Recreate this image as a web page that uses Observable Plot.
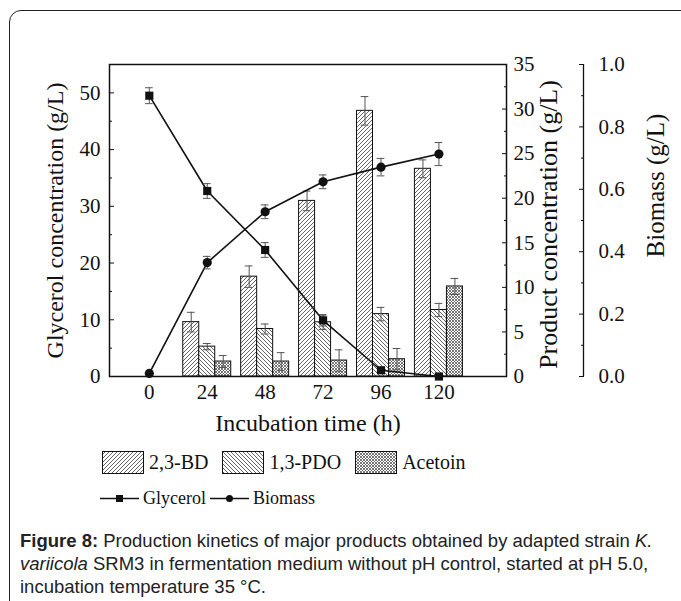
<!DOCTYPE html>
<html><head><meta charset="utf-8">
<script src="https://cdn.jsdelivr.net/npm/d3@7"></script>
<script src="https://cdn.jsdelivr.net/npm/@observablehq/plot@0.6"></script>
<style>
html,body{margin:0;padding:0;background:#fff;overflow:hidden;width:681px;height:601px}
#wrap{position:relative;width:681px;height:601px;overflow:hidden}
#border{position:absolute;left:9px;top:10px;width:700px;height:620px;border:1.5px solid #222;border-radius:12px;box-sizing:border-box}
#chart{position:absolute;left:0;top:0}
.leg{position:absolute;font-family:"Liberation Serif",serif;color:#111;display:flex;align-items:center;white-space:nowrap}
.leg svg{display:block}
#caption{position:absolute;left:20px;top:529px;font-family:"Liberation Sans",Arial,sans-serif;font-size:18.5px;line-height:23px;color:#222;white-space:nowrap}
</style></head>
<body>
<svg width="0" height="0" style="position:absolute">
  <defs>
    <pattern id="pBD" patternUnits="userSpaceOnUse" width="4" height="4">
      <rect width="4" height="4" fill="#fff"/>
      <path d="M-1,1 l2,-2 M0,4 l4,-4 M3,5 l2,-2" stroke="#555" stroke-width="0.9"/>
    </pattern>
    <pattern id="pPDO" patternUnits="userSpaceOnUse" width="4" height="4">
      <rect width="4" height="4" fill="#fff"/>
      <path d="M-1,3 l2,2 M0,0 l4,4 M3,-1 l2,2" stroke="#555" stroke-width="0.9"/>
    </pattern>
    <pattern id="pAce" patternUnits="userSpaceOnUse" width="3" height="3">
      <rect width="3" height="3" fill="#fff"/>
      <path d="M0,0 l3,3 M3,0 l-3,3" stroke="#555" stroke-width="0.8"/>
    </pattern>
  </defs>
</svg>
<div id="wrap">
  <div id="border"></div>
  <div id="chart"></div>
  <div class="leg" id="leg1" style="left:102px;top:450px;height:24px;font-size:20px"></div>
  <div class="leg" id="leg2" style="left:100px;top:487px;height:22px;font-size:18px"></div>
  <div id="caption"><b>Figure 8:</b> Production kinetics of major products obtained by adapted strain <i>K.</i><br><i>variicola</i> SRM3 in fermentation medium without pH control, started at pH 5.0,<br>incubation temperature 35 °C.</div>
</div>
<script>
// ---- data ----
const times = [0, 24, 48, 72, 96, 120];
const glycerol = [49.5, 32.7, 22.3, 9.9, 1.1, 0.0];
const glycerolErr = [1.4, 1.3, 1.3, 1.0, 0.3, 0.0];
const biomass = [0.01, 0.365, 0.528, 0.624, 0.671, 0.713];
const biomassErr = [0.0, 0.02, 0.022, 0.022, 0.028, 0.037];

const barTimes = [24, 48, 72, 96, 120];
const bd = [6.1, 11.2, 19.7, 29.8, 23.3];
const bdErr = [1.1, 1.2, 1.1, 1.6, 1.0];
const pdo = [3.35, 5.33, 6.08, 7.0, 7.46];
const pdoErr = [0.35, 0.56, 0.8, 0.75, 0.74];
const acetoin = [1.68, 1.68, 1.79, 1.94, 10.1];
const acetoinErr = [0.67, 1.0, 1.2, 1.2, 0.9];

const seriesNames = ["2,3-BD", "1,3-PDO", "Acetoin"];
const seriesFills = ["url(#pBD)", "url(#pPDO)", "url(#pAce)"];
const lineNames = ["Glycerol", "Biomass"];

const glyTicks = [0, 10, 20, 30, 40, 50];
const glyMinor = [5, 15, 25, 35, 45];
const prodTicks = [0, 5, 10, 15, 20, 25, 30, 35];
const prodMinor = [2.5, 7.5, 12.5, 17.5, 22.5, 27.5, 32.5];
const bioTicks = [0, 0.2, 0.4, 0.6, 0.8, 1.0];
const bioMinor = [0.1, 0.3, 0.5, 0.7, 0.9];

const xDomain = [-16.5, 148];
const productMax = 35, glycerolMax = 55, biomassMax = 1.0;
const toProd = g => g * productMax / glycerolMax;
const bioToProd = b => b * productMax / biomassMax;

// ---- build ----
const barW = 6.63, capW = 1.6;
const seriesVals = [bd, pdo, acetoin], seriesErrs = [bdErr, pdoErr, acetoinErr];
const bars = seriesVals.map((vals, s) => barTimes.map((t, i) => ({
  t, c: t + (s - 1) * barW, v: vals[i], e: seriesErrs[s][i]
})));
const allBars = bars.flat();
const gly = times.map((t, i) => ({t, v: toProd(glycerol[i]), e: toProd(glycerolErr[i])}));
const bio = times.map((t, i) => ({t, v: bioToProd(biomass[i]), e: bioToProd(biomassErr[i])}));
const glyE = gly.filter(d => d.e > 0), bioE = bio.filter(d => d.e > 0);

const errMarks = (data, xk, color) => [
  Plot.ruleX(data, {x: xk, y1: d => d.v - d.e, y2: d => d.v + d.e, stroke: color, strokeWidth: 1}),
  Plot.ruleY(data, {y: d => d.v + d.e, x1: d => d[xk] - capW, x2: d => d[xk] + capW, stroke: color, strokeWidth: 1}),
  Plot.ruleY(data, {y: d => d.v - d.e, x1: d => d[xk] - capW, x2: d => d[xk] + capW, stroke: color, strokeWidth: 1})
];
const noLabel = () => "";

const chart = Plot.plot({
  width: 681, height: 440,
  marginLeft: 109, marginRight: 175, marginTop: 64, marginBottom: 64,
  x: {domain: xDomain},
  y: {domain: [0, productMax]},
  style: {fontFamily: "Liberation Serif, serif", fontSize: "21px", color: "#111", background: "transparent", overflow: "visible"},
  marks: [
    ...bars.map((data, s) => Plot.rectY(data, {x1: d => d.c - barW / 2, x2: d => d.c + barW / 2, y1: 0, y2: "v", fill: seriesFills[s], stroke: "#111", strokeWidth: 1})),
    ...errMarks(allBars, "c", "#555"),
    Plot.line(gly, {x: "t", y: "v", stroke: "#111", strokeWidth: 1.6}),
    Plot.line(bio, {x: "t", y: "v", stroke: "#111", strokeWidth: 1.6}),
    ...errMarks(glyE, "t", "#555"),
    ...errMarks(bioE, "t", "#555"),
    Plot.dot(gly, {x: "t", y: "v", symbol: "square", r: 4.6, fill: "#111", stroke: null}),
    Plot.dot(bio, {x: "t", y: "v", symbol: "circle", r: 4.6, fill: "#111", stroke: null}),
    Plot.frame({stroke: "#111", strokeWidth: 1.5}),
    // left glycerol axis: labels, then inward ticks
    Plot.axisY({anchor: "left", ticks: glyTicks.map(toProd), tickSize: 0, tickPadding: 9, tickFormat: d => Math.round(d * glycerolMax / productMax), label: null}),
    Plot.axisY({anchor: "left", ticks: glyTicks.map(toProd), tickSize: -5, tickFormat: noLabel, label: null, stroke: "#111"}),
    Plot.axisY({anchor: "left", ticks: glyMinor.map(toProd), tickSize: -3, tickFormat: noLabel, label: null, stroke: "#111"}),
    // right product axis
    Plot.axisY({anchor: "right", ticks: prodTicks, tickSize: 0, tickPadding: 7, tickFormat: d => d, label: null}),
    Plot.axisY({anchor: "right", ticks: prodTicks, tickSize: -5, tickFormat: noLabel, label: null, stroke: "#111"}),
    Plot.axisY({anchor: "right", ticks: prodMinor, tickSize: -3, tickFormat: noLabel, label: null, stroke: "#111"}),
    // biomass axis
    Plot.ruleX([xDomain[1]], {dx: 77, stroke: "#111", strokeWidth: 1.3}),
    Plot.axisY({anchor: "right", dx: 77, ticks: bioTicks.map(bioToProd), tickSize: 0, tickPadding: 15, tickFormat: d => (d / bioToProd(1)).toFixed(1), label: null}),
    Plot.axisY({anchor: "right", dx: 77, ticks: bioTicks.map(bioToProd), tickSize: -5, tickFormat: noLabel, label: null, stroke: "#111"}),
    Plot.axisY({anchor: "right", dx: 77, ticks: bioMinor.map(bioToProd), tickSize: -3, tickFormat: noLabel, label: null, stroke: "#111"}),
    // x axis
    Plot.axisX({ticks: times, tickSize: 0, tickPadding: 8, tickFormat: d => String(d), label: null}),
    // titles
    Plot.text(["Incubation time (h)"], {frameAnchor: "bottom", dy: 47, text: d => d, fontSize: 24, lineAnchor: "middle"}),
    Plot.text(["Glycerol concentration (g/L)"], {frameAnchor: "left", dx: -54, rotate: -90, text: d => d, fontSize: 24, textAnchor: "middle", lineAnchor: "middle"}),
    Plot.text(["Product concentration (g/L)"], {frameAnchor: "right", dx: 42, dy: 4, rotate: -90, text: d => d, fontSize: 26, textAnchor: "middle", lineAnchor: "middle"}),
    Plot.text(["Biomass (g/L)"], {frameAnchor: "right", dx: 149, dy: -35, rotate: -90, text: d => d, fontSize: 25, textAnchor: "middle", lineAnchor: "middle"})
  ]
});
document.getElementById("chart").append(chart);

// ---- legends ----
const leg1 = document.getElementById("leg1");
seriesNames.forEach((name, i) => {
  const item = document.createElement("span");
  item.style.cssText = `display:flex;align-items:center;margin-left:${i ? 14 : 0}px`;
  item.innerHTML = `<svg width="42" height="23"><rect x="0.5" y="0.5" width="41" height="22" fill="${seriesFills[i]}" stroke="#111" stroke-width="1"/></svg><span style="margin-left:5px">${name}</span>`;
  leg1.append(item);
});
const leg2 = document.getElementById("leg2");
lineNames.forEach((name, i) => {
  const item = document.createElement("span");
  item.style.cssText = `display:flex;align-items:center;margin-left:${i ? 4 : 0}px`;
  const marker = i === 0
    ? `<rect x="16" y="4" width="7" height="7" fill="#111"/>`
    : `<circle cx="19.5" cy="7.5" r="3.5" fill="#111"/>`;
  item.innerHTML = `<svg width="39" height="15"><line x1="0" x2="39" y1="7.5" y2="7.5" stroke="#111" stroke-width="1.6"/>${marker}</svg><span style="margin-left:4px">${name}</span>`;
  leg2.append(item);
});
</script>
</body></html>
